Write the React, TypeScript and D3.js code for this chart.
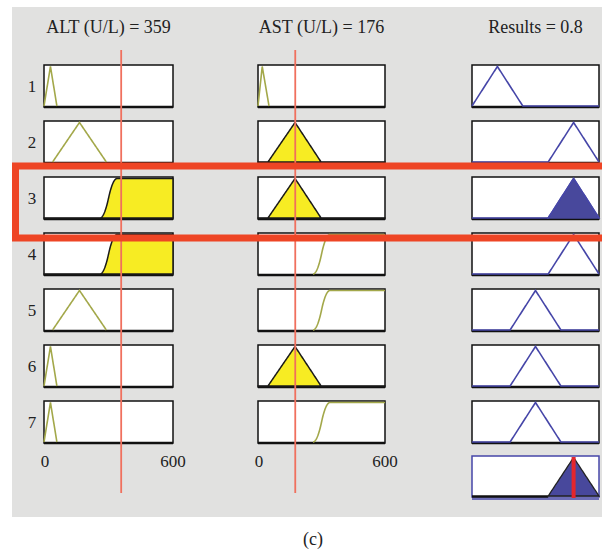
import React from "react";
import * as d3 from "d3";

// ---- data ----
const inputNames = ["ALT (U/L)", "AST (U/L)"];
const inputValues = [359, 176];
const inputDomain: [number, number] = [0, 600];
const inputTicks = [0, 600];
const outputName = "Results";
const outputValue = 0.8;
const outputDomain: [number, number] = [0, 1];
const ruleLabels = ["1", "2", "3", "4", "5", "6", "7"];

type MF = { type: "tri" | "s"; params: number[] };
// membership functions used by each rule (rows 1..7)
const altMFs: MF[] = [
  { type: "tri", params: [0, 30, 60] },
  { type: "tri", params: [40, 165, 290] },
  { type: "s", params: [260, 340] },
  { type: "s", params: [260, 340] },
  { type: "tri", params: [40, 165, 290] },
  { type: "tri", params: [0, 30, 60] },
  { type: "tri", params: [0, 30, 60] },
];
const astMFs: MF[] = [
  { type: "tri", params: [0, 20, 52] },
  { type: "tri", params: [47, 175, 298] },
  { type: "tri", params: [47, 175, 298] },
  { type: "s", params: [260, 340] },
  { type: "s", params: [260, 340] },
  { type: "tri", params: [47, 175, 298] },
  { type: "s", params: [260, 340] },
];
const resMFs: MF[] = [
  { type: "tri", params: [0, 0.2, 0.4] },
  { type: "tri", params: [0.6, 0.8, 1.0] },
  { type: "tri", params: [0.6, 0.8, 1.0] },
  { type: "tri", params: [0.6, 0.8, 1.0] },
  { type: "tri", params: [0.3, 0.5, 0.7] },
  { type: "tri", params: [0.3, 0.5, 0.7] },
  { type: "tri", params: [0.3, 0.5, 0.7] },
];

function evalMF(mf: MF, x: number): number {
  if (mf.type === "tri") {
    const [a, b, c] = mf.params;
    if (x <= a || x >= c) return x === b ? 1 : 0;
    return x < b ? (x - a) / (b - a) : (c - x) / (c - b);
  }
  const [a, b] = mf.params;
  if (x <= a) return 0;
  if (x >= b) return 1;
  const m = (a + b) / 2;
  if (x <= m) return 2 * ((x - a) / (b - a)) ** 2;
  return 1 - 2 * ((x - b) / (b - a)) ** 2;
}

// ---- layout ----
const W = 602, H = 554;
const colX: [number, number][] = [[44, 173], [258, 385], [472, 599]];
const rowTop0 = 65, rowPitch = 56, boxH = 42;
const OLIVE = "#a3a84a";
const YELLOW = "#f7ec23";
const BLUE = "#4646a8";
const NAVY = "#48489c";

function samples(dom: [number, number], mf: MF) {
  const pts = d3.range(0, 401).map(i => dom[0] + (dom[1] - dom[0]) * i / 400);
  const keys = mf.type === "tri" ? mf.params : mf.params;
  const all = Array.from(new Set([...pts, ...keys.filter(k => k >= dom[0] && k <= dom[1])])).sort((a, b) => a - b);
  return all;
}

export default function App() {
  const rowTop = (i: number) => rowTop0 + i * rowPitch;
  const degreesAlt = altMFs.map(m => evalMF(m, inputValues[0]));
  const degreesAst = astMFs.map(m => evalMF(m, inputValues[1]));
  const strengths = degreesAlt.map((d, i) => Math.min(d, degreesAst[i]));

  const inputCols = [altMFs, astMFs];
  const elems: React.ReactNode[] = [];

  // input columns
  inputCols.forEach((mfs, c) => {
    const x = d3.scaleLinear().domain(inputDomain).range(colX[c]);
    mfs.forEach((mf, r) => {
      const top = rowTop(r);
      const y = d3.scaleLinear().domain([0, 1]).range([top + boxH - 1, top + 1.5]);
      const xs = samples(inputDomain, mf);
      const deg = evalMF(mf, inputValues[c]);
      const line = d3.line<number>().x(v => x(v)).y(v => y(evalMF(mf, v)));
      const area = d3.area<number>().x(v => x(v)).y0(y(0)).y1(v => y(Math.min(deg, evalMF(mf, v))));
      const supp = xs.filter(v => evalMF(mf, v) > 0 || true);
      elems.push(
        <g key={`c${c}r${r}`}>
          <rect x={colX[c][0]} y={top} width={colX[c][1] - colX[c][0]} height={boxH} fill="#fff" stroke="#111" strokeWidth={1.5} />
          <line x1={colX[c][0]} x2={colX[c][1]} y1={top + boxH} y2={top + boxH} stroke="#111" strokeWidth={2.5} />
          {deg > 0.01 ? (
            <path d={area(supp) || ""} fill={YELLOW} stroke="#1a1a1a" strokeWidth={1.5} strokeLinejoin="round" />
          ) : (
            <path d={line(xs.filter(v => evalMF(mf, v) > 0 || v === mf.params[0] || v === mf.params[mf.params.length - 1] || (mf.type === "tri" && v === mf.params[2]))) || ""} fill="none" stroke={OLIVE} strokeWidth={1.6} />
          )}
        </g>
      );
    });
  });

  // output column
  const xo = d3.scaleLinear().domain(outputDomain).range(colX[2]);
  resMFs.forEach((mf, r) => {
    const top = rowTop(r);
    const y = d3.scaleLinear().domain([0, 1]).range([top + boxH - 1, top + 1.5]);
    const xs = samples(outputDomain, mf);
    const s = strengths[r];
    const line = d3.line<number>().x(v => xo(v)).y(v => y(evalMF(mf, v)));
    const area = d3.area<number>().x(v => xo(v)).y0(y(0)).y1(v => y(Math.min(s, evalMF(mf, v))));
    elems.push(
      <g key={`o${r}`}>
        <rect x={colX[2][0]} y={top} width={colX[2][1] - colX[2][0]} height={boxH} fill="#fff" stroke="#111" strokeWidth={1.5} />
        <line x1={colX[2][0]} x2={colX[2][1]} y1={top + boxH} y2={top + boxH} stroke="#111" strokeWidth={2.5} />
        {s > 0.01 ? (
          <path d={area(xs.filter(v => evalMF(mf, v) > 0 || v === mf.params[0] || v === mf.params[2])) || ""} fill={NAVY} stroke={NAVY} strokeWidth={1.5} />
        ) : null}
        <path d={line(xs) || ""} fill="none" stroke={BLUE} strokeWidth={1.6} />
      </g>
    );
  });

  // aggregated output
  {
    const top = rowTop(7) - 1;
    const h = boxH - 1;
    const y = d3.scaleLinear().domain([0, 1]).range([top + h - 1, top + 1.5]);
    const agg = (v: number) => d3.max(resMFs.map((mf, i) => Math.min(strengths[i], evalMF(mf, v)))) || 0;
    const xs = Array.from(new Set([...d3.range(0, 401).map(i => i / 400), ...resMFs.flatMap(m => m.params)])).sort((a, b) => a - b);
    const area = d3.area<number>().x(v => xo(v)).y0(y(0)).y1(v => y(agg(v)));
    const firstPos = xs.findIndex(v => agg(v) > 0);
    elems.push(
      <g key="agg">
        <rect x={colX[2][0]} y={top} width={colX[2][1] - colX[2][0]} height={h} fill="#fff" stroke={BLUE} strokeWidth={1.5} />
        <line x1={colX[2][0]} x2={colX[2][1]} y1={top + h + 2} y2={top + h + 2} stroke={BLUE} strokeWidth={1.5} />
        <line x1={colX[2][0]} x2={xo(xs[Math.max(0, firstPos - 1)])} y1={top + h - 0.5} y2={top + h - 0.5} stroke="#111" strokeWidth={2.5} />
        <path d={area(xs.filter((v, i) => i >= firstPos - 1)) || ""} fill={NAVY} stroke="#222" strokeWidth={1.3} />
        <line x1={xo(outputValue)} x2={xo(outputValue)} y1={top + 1} y2={top + h + 1} stroke="#e5262c" strokeWidth={4} />
      </g>
    );
  }

  return (
    <svg width={W} height={H} style={{ position: "absolute", left: 0, top: 0, display: "block" }} fontFamily="'Liberation Serif', 'DejaVu Serif', serif">
      <rect x={0} y={0} width={W} height={H} fill="#fff" />
      <rect x={12} y={7} width={W - 12} height={510} fill="#e1e1e0" />
      {/* titles */}
      {inputNames.map((n, c) => (
        <text key={n} x={(colX[c][0] + colX[c][1]) / 2} y={33} textAnchor="middle" fontSize={18} fill="#222">{`${n} = ${inputValues[c]}`}</text>
      ))}
      <text x={(colX[2][0] + colX[2][1]) / 2} y={33} textAnchor="middle" fontSize={18} fill="#222">{`${outputName} = ${outputValue}`}</text>
      {/* rule labels */}
      {ruleLabels.map((l, r) => (
        <text key={l} x={32} y={rowTop(r) + boxH / 2 + 6} textAnchor="middle" fontSize={17} fill="#222">{l}</text>
      ))}
      {elems}
      {/* tick labels */}
      {[0, 1].map(c => {
        const x = d3.scaleLinear().domain(inputDomain).range(colX[c]);
        return inputTicks.map(t => (
          <text key={`t${c}${t}`} x={x(t) + (t === 0 ? 1 : 0)} y={467} textAnchor="middle" fontSize={17} fill="#222">{t}</text>
        ));
      })}
      {/* input value lines */}
      {[0, 1].map(c => {
        const x = d3.scaleLinear().domain(inputDomain).range(colX[c]);
        return <line key={`v${c}`} x1={x(inputValues[c])} x2={x(inputValues[c])} y1={50} y2={493} stroke="#f0705e" strokeWidth={1.8} />;
      })}
      {/* highlight of rule 3 */}
      <rect x={15.5} y={166} width={W} height={72} fill="none" stroke="#ee4525" strokeWidth={7} />
      <text x={313} y={545} textAnchor="middle" fontSize={18} fill="#222">(c)</text>
    </svg>
  );
}
